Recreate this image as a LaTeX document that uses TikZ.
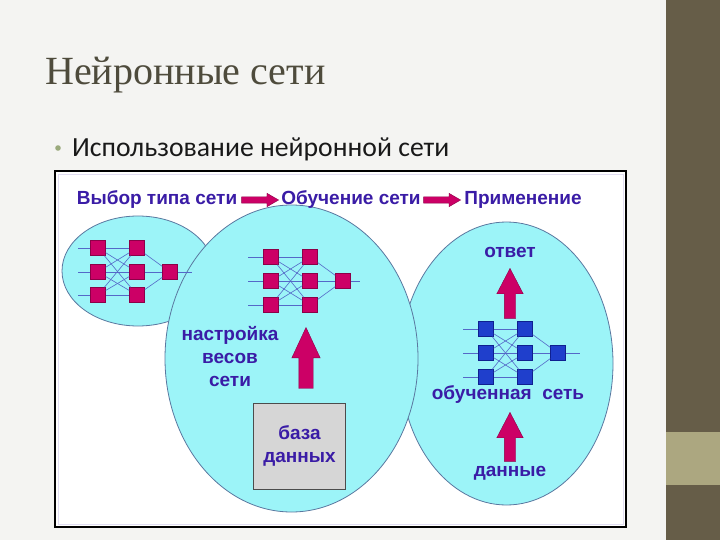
\documentclass[tikz,border=0pt]{standalone}
\usepackage{fontspec}
\setmainfont{Liberation Serif}
\setsansfont{Liberation Sans}
\newfontfamily\bodyfont{Carlito}
\usetikzlibrary{shapes.arrows}
\definecolor{slidebg}{HTML}{F4F4F2}
\definecolor{sidebar}{HTML}{665D48}
\definecolor{sideband}{HTML}{ACA780}
\definecolor{titlegrey}{HTML}{4E4B3C}
\definecolor{dotgreen}{HTML}{9AAA7C}
\definecolor{lblue}{HTML}{3A1CA6}
\definecolor{cyanfill}{HTML}{9CF4F8}
\definecolor{cyanedge}{HTML}{5A78A0}
\definecolor{neured}{HTML}{CC0066}
\definecolor{neuredge}{HTML}{8C0048}
\definecolor{neublue}{HTML}{1F3FCC}
\definecolor{neublueedge}{HTML}{0F2090}
\definecolor{linkblue}{HTML}{5468C8}
\tikzset{
  lbl/.style={font=\sffamily\bfseries\fontsize{19}{23}\selectfont, text=lblue, inner sep=1pt},
  blob/.style={draw=cyanedge, fill=cyanfill, line width=0.8pt},
  redsq/.style={draw=neuredge, fill=neured, minimum size=15pt, inner sep=0pt},
  bluesq/.style={draw=neublueedge, fill=neublue, minimum size=15pt, inner sep=0pt},
  link/.style={draw=linkblue, line width=0.6pt},
  fatarrow/.style={single arrow, draw=neuredge, fill=neured, inner xsep=0pt, minimum width=0pt, single arrow head indent=0pt, anchor=tip}
}

\begin{document}
\begin{tikzpicture}[x=1pt, y=-1pt]
\useasboundingbox (0,0) rectangle (720,540);
\fill[slidebg] (0,0) rectangle (720,540);
\fill[sidebar] (666,0) rectangle (720,540);
\fill[sideband] (666,432) rectangle (720,485);
\node[anchor=base west, inner sep=0pt, text=titlegrey, font=\fontsize{40}{44}\selectfont] (title) at (45,85) {Нейронные сети};
\fill[dotgreen] (58,148) circle (2.8pt);
\node[anchor=base west, inner sep=0pt, text=black!90, font=\bodyfont\fontsize{27.7}{30}\selectfont] (item) at (72,157) {Использование нейронной сети};
\draw[line width=1.5pt, fill=white] (55,171) rectangle (626,527);
\draw[color=lblue!15] (58,174) rectangle (623,524);

\draw[blob] (138,271) ellipse [x radius=76pt, y radius=55pt];
\draw[blob] (506.5,363.5) ellipse [x radius=106.5pt, y radius=141.5pt];
\draw[blob] (291.5,358.5) ellipse [x radius=126.5pt, y radius=153.5pt];

\node[lbl] (pick) at (157,200) {Выбор типа сети};
\node[lbl] (learn) at (351,200) {Обучение сети};
\node[lbl] (use) at (523,200) {Применение};
\node[fatarrow, inner ysep=3pt, minimum height=37pt, single arrow head extend=3.5pt, single arrow tip angle=60] (h1) at (279,200) {};
\node[fatarrow, inner ysep=3pt, minimum height=37pt, single arrow head extend=3.5pt, single arrow tip angle=60] (h2) at (461,200) {};

\foreach \r/\y in {1/248,2/272,3/295}{
  \node[redsq] (la\r) at (98,\y) {};
  \node[redsq] (lb\r) at (137,\y) {};
  \coordinate (li\r) at (78,\y);
}
\node[redsq] (lo) at (170,272) {};
\coordinate (le) at (192,272);
\foreach \i in {1,2,3}{
  \draw[link] (li\i) -- (la\i);
  \draw[link] (lb\i) -- (lo);
  \foreach \j in {1,2,3} \draw[link] (la\i) -- (lb\j);
}
\draw[link] (lo) -- (le);

\foreach \r/\y in {1/257,2/281,3/305}{
  \node[redsq] (ma\r) at (271,\y) {};
  \node[redsq] (mb\r) at (310,\y) {};
  \coordinate (mi\r) at (248,\y);
}
\node[redsq] (mo) at (343,281) {};
\coordinate (me) at (360,281);
\foreach \i in {1,2,3}{
  \draw[link] (mi\i) -- (ma\i);
  \draw[link] (mb\i) -- (mo);
  \foreach \j in {1,2,3} \draw[link] (ma\i) -- (mb\j);
}
\draw[link] (mo) -- (me);

\foreach \r/\y in {1/329,2/353,3/377}{
  \node[bluesq] (ra\r) at (486,\y) {};
  \node[bluesq] (rb\r) at (525,\y) {};
  \coordinate (ri\r) at (463,\y);
}
\node[bluesq] (ro) at (558,353) {};
\coordinate (re) at (580,353);
\foreach \i in {1,2,3}{
  \draw[link] (ri\i) -- (ra\i);
  \draw[link] (rb\i) -- (ro);
  \foreach \j in {1,2,3} \draw[link] (ra\i) -- (rb\j);
}
\draw[link] (ro) -- (re);

\node[lbl, align=center, font=\sffamily\bfseries\fontsize{19}{23}\selectfont] (tune) at (230,357) {настройка\\весов\\сети};
\node[fatarrow, inner ysep=7pt, minimum height=61pt, single arrow head extend=7pt, single arrow tip angle=50, rotate=90] (up1) at (306,327) {};
\node[draw=black!70, fill=black!16, line width=1pt, minimum width=92pt, minimum height=86pt] (db) at (299.5,446) {};
\node[lbl, align=center, font=\sffamily\bfseries\fontsize{19}{23}\selectfont] (dbtext) at (299.5,446) {база\\данных};

\node[lbl] (answer) at (510,252) {ответ};
\node[fatarrow, inner ysep=5.5pt, minimum height=50pt, single arrow head extend=7.5pt, single arrow tip angle=55, rotate=90] (up2) at (510,268) {};
\node[lbl] (trained) at (508,395) {обученная\ \ сеть};
\node[fatarrow, inner ysep=5.5pt, minimum height=49pt, single arrow head extend=7.5pt, single arrow tip angle=55, rotate=90] (up3) at (510,412) {};
\node[lbl] (data) at (510,473) {данные};
\end{tikzpicture}
\end{document}
